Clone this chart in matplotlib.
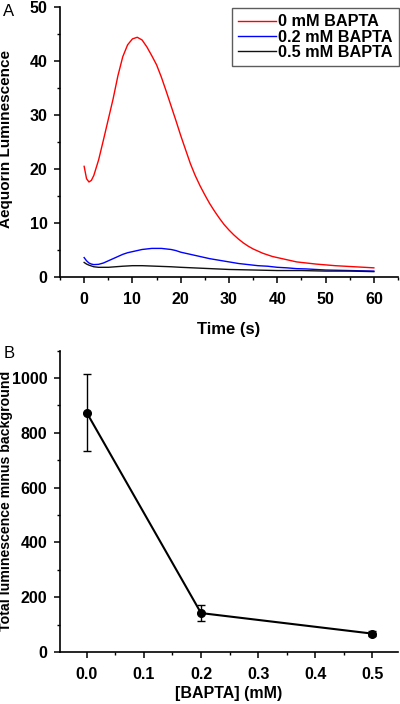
import matplotlib
matplotlib.use("Agg")
import matplotlib.pyplot as plt
from matplotlib.ticker import MultipleLocator

plt.rcParams['font.family'] = ['Liberation Sans', 'DejaVu Sans']

# Panel A: aequorin luminescence time courses
t_red = [0, 0.5, 1, 1.5, 2, 3, 4, 5, 6, 7, 8, 9, 10, 11, 12, 13, 14, 15, 16, 17, 18, 19, 20,
         21, 22, 23, 24, 25, 26, 27, 28, 29, 30, 31, 32, 33, 34, 35, 36, 37, 38, 39, 40,
         42, 44, 46, 48, 50, 52, 54, 56, 58, 60]
v_red = [20.5, 18.2, 17.6, 17.9, 18.8, 21.7, 25.4, 29.2, 33.0, 37.3, 40.8, 43.0, 44.1, 44.4, 43.9,
         42.6, 41.0, 39.3, 37.0, 34.4, 31.7, 29.0, 26.2, 23.6, 21.0, 18.8, 16.9, 15.2, 13.6, 12.2,
         10.9, 9.7, 8.7, 7.8, 7.0, 6.3, 5.7, 5.2, 4.8, 4.4, 4.1, 3.8, 3.6, 3.2, 2.8, 2.6, 2.4,
         2.25, 2.1, 2.0, 1.9, 1.8, 1.7]

t_blue = [0, 0.5, 1, 1.5, 2, 3, 4, 5, 6, 7, 8, 9, 10, 11, 12, 13, 14, 15, 16, 17, 18, 19, 20,
          22, 24, 26, 28, 30, 32, 34, 36, 38, 40, 42, 44, 46, 48, 50, 55, 60]
v_blue = [3.6, 3.0, 2.6, 2.4, 2.3, 2.35, 2.6, 3.0, 3.4, 3.8, 4.2, 4.5, 4.7, 4.9, 5.1, 5.2, 5.3,
          5.3, 5.3, 5.2, 5.1, 4.9, 4.6, 4.2, 3.8, 3.4, 3.1, 2.8, 2.5, 2.3, 2.1, 2.0, 1.8, 1.7,
          1.55, 1.5, 1.4, 1.3, 1.2, 1.1]

t_black = [0, 0.5, 1, 2, 3, 5, 8, 10, 12, 15, 18, 20, 25, 30, 35, 40, 45, 50, 55, 60]
v_black = [2.7, 2.4, 2.2, 1.9, 1.8, 1.8, 2.0, 2.1, 2.1, 2.0, 1.9, 1.8, 1.6, 1.4, 1.3, 1.2, 1.2,
           1.1, 1.1, 1.0]

series_labels = ['0 mM BAPTA', '0.2 mM BAPTA', '0.5 mM BAPTA']

# Panel B: total luminescence
bapta = [0.0, 0.2, 0.5]
total_lum = [873, 142, 67]
total_err = [140, 28, 8]

fig = plt.figure(figsize=(4.0, 7.04), dpi=100)

def style(ax):
    ax.spines['top'].set_visible(False)
    ax.spines['right'].set_visible(False)
    for s in ('left', 'bottom'):
        ax.spines[s].set_linewidth(1.2)
    ax.tick_params(which='major', direction='out', length=4, width=1.1, labelsize=11.5, pad=5)
    ax.tick_params(which='minor', direction='out', length=2.5, width=1.0)
    ax.tick_params(axis='x', which='major', pad=7)
    for lab in ax.get_xticklabels() + ax.get_yticklabels():
        lab.set_fontweight('bold')

# ---------- Panel A ----------
axA = fig.add_axes([0.15, 0.6065, 0.845, 0.3835])
axA.plot(t_red, v_red, color='#ff0000', lw=1.0, label=series_labels[0])
axA.plot(t_blue, v_blue, color='#0000ff', lw=1.0, label=series_labels[1])
axA.plot(t_black, v_black, color='#111111', lw=1.0, label=series_labels[2])
axA.set_xlim(-5, 65)
axA.set_ylim(0, 50)
axA.xaxis.set_major_locator(MultipleLocator(10))
axA.xaxis.set_minor_locator(MultipleLocator(5))
axA.yaxis.set_major_locator(MultipleLocator(10))
axA.yaxis.set_minor_locator(MultipleLocator(5))
style(axA)
axA.set_xlabel('Time (s)', fontsize=12, fontweight='bold')
axA.xaxis.set_label_coords(0.5, -0.167)
axA.set_ylabel('Aequorin Luminescence', fontsize=11, fontweight='bold')
axA.yaxis.set_label_coords(-0.139, 0.51)
leg = axA.legend(loc='upper right', bbox_to_anchor=(0.998, 0.989), bbox_transform=fig.transFigure,
                 frameon=True, fancybox=False, edgecolor='#333333', fontsize=11.7,
                 handlelength=2.3, handletextpad=0.15, borderpad=0.4, labelspacing=0.02,
                 borderaxespad=0)
leg.get_frame().set_linewidth(1.0)
for txt in leg.get_texts():
    txt.set_fontweight('bold')
fig.text(0.008, 0.994, 'A', fontsize=12, va='top', ha='left')

# ---------- Panel B ----------
axB = fig.add_axes([0.15, 0.0739, 0.845, 0.428])
axB.errorbar(bapta, total_lum, yerr=total_err, color='black', lw=1.5, marker='o',
             markersize=5.5, capsize=3, elinewidth=1.0, capthick=1.0)
axB.set_xlim(-0.047, 0.545)
axB.set_ylim(0, 1100)
axB.xaxis.set_major_locator(MultipleLocator(0.1))
axB.xaxis.set_minor_locator(MultipleLocator(0.05))
axB.yaxis.set_major_locator(MultipleLocator(200))
axB.yaxis.set_minor_locator(MultipleLocator(100))
style(axB)
axB.set_xlabel('[BAPTA] (mM)', fontsize=11.5, fontweight='bold')
axB.xaxis.set_label_coords(0.5, -0.114)
axB.set_ylabel('Total luminescence minus background', fontsize=10.2, fontweight='bold')
axB.yaxis.set_label_coords(-0.138, 0.50)
fig.text(0.008, 0.509, 'B', fontsize=12, va='top', ha='left')

fig.savefig('out.png', dpi=100)
